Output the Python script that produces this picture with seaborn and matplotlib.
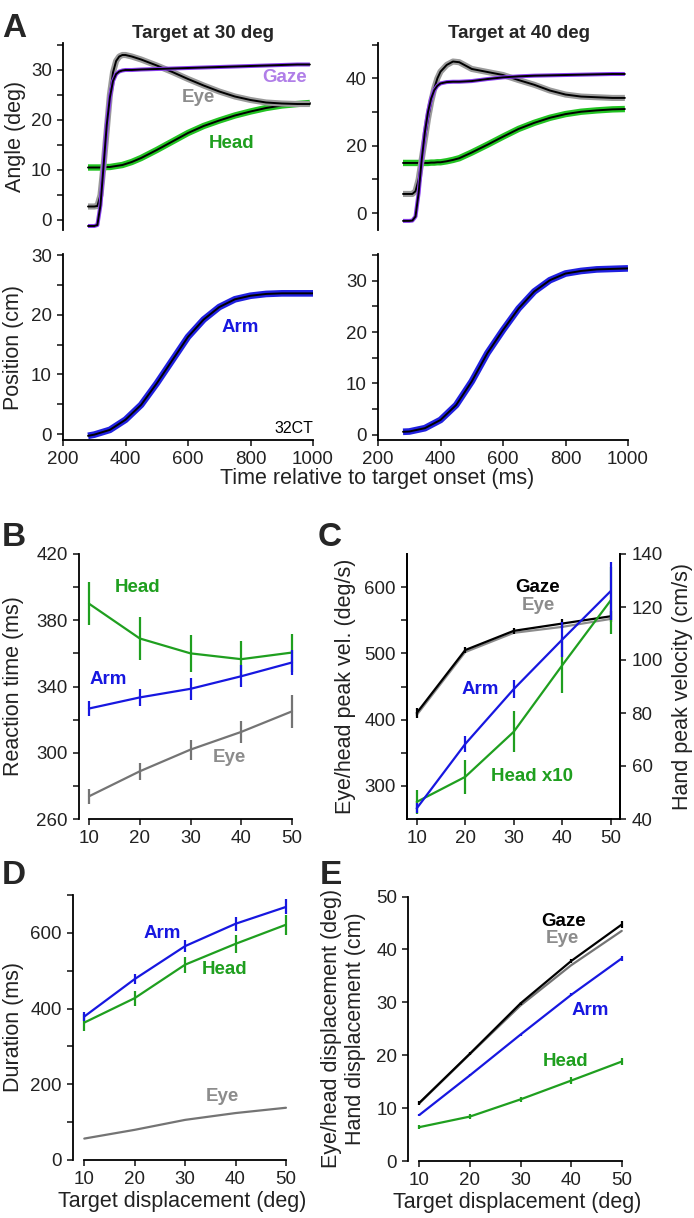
import numpy as np
import pandas as pd
import seaborn as sns
import matplotlib.pyplot as plt

# ---- panel A: averaged traces (ms, deg / cm) ----
t_a30 = [280, 300, 310, 320, 330, 340, 350, 360, 370, 380, 390, 400, 420, 450,
         500, 550, 600, 650, 700, 750, 800, 850, 900, 950, 990]
eye_30 = [2.7, 2.7, 2.8, 5, 11, 18, 25, 29.5, 31.8, 32.7, 33.0, 33.0, 32.7, 32.1,
          30.9, 29.6, 28.2, 26.9, 25.7, 24.7, 24.0, 23.5, 23.3, 23.2, 23.2]
gaze_30 = [-1.2, -1.2, -1.0, 3, 11, 19, 24.5, 27.8, 29.2, 29.7, 29.9, 30.0, 30.0, 30.1,
           30.2, 30.3, 30.4, 30.5, 30.6, 30.7, 30.8, 30.9, 31.0, 31.1, 31.1]
head_30 = [10.5, 10.5, 10.5, 10.5, 10.5, 10.6, 10.6, 10.7, 10.8, 10.9, 11.0, 11.2, 11.6, 12.4,
           14.0, 15.7, 17.4, 18.8, 19.9, 20.9, 21.7, 22.4, 22.9, 23.2, 23.4]

t_a40 = [280, 300, 310, 320, 330, 340, 350, 360, 370, 380, 390, 400, 420, 440, 460,
         500, 550, 600, 650, 700, 750, 800, 850, 900, 950, 990]
eye_40 = [5.7, 5.7, 5.7, 6.5, 10, 16, 22, 28, 33, 37, 40, 42, 44, 45, 44.8,
          42.8, 41.9, 41.0, 39.5, 38.1, 36.4, 35.2, 34.6, 34.4, 34.2, 34.2]
gaze_40 = [-2.3, -2.3, -2.2, -1, 6, 16, 24, 30, 34, 36.5, 37.8, 38.5, 38.9, 39.0, 39.0,
           39.2, 39.8, 40.3, 40.6, 40.8, 40.9, 41.0, 41.1, 41.2, 41.3, 41.3]
head_40 = [14.9, 14.9, 14.9, 14.9, 14.9, 14.9, 14.9, 14.9, 15.0, 15.0, 15.1, 15.1, 15.4, 15.8, 16.3,
           18.0, 20.3, 22.7, 25.0, 26.8, 28.3, 29.4, 30.1, 30.5, 30.8, 30.9]

t_arm = [280, 300, 350, 400, 450, 500, 550, 600, 650, 700, 750, 800, 850, 900, 950, 1000]
arm_30 = [-0.3, -0.1, 0.7, 2.4, 4.9, 8.5, 12.4, 16.3, 19.2, 21.3, 22.6, 23.2, 23.5, 23.6, 23.6, 23.6]
arm_40 = [0.6, 0.65, 1.3, 2.9, 5.8, 10.4, 15.9, 20.4, 24.6, 27.9, 30.1, 31.4, 31.9, 32.2, 32.3, 32.4]

# ---- panels B-E: vs target displacement ----
targets = [10, 20, 30, 40, 50]

rt_head = [390, 369, 360, 356.5, 360.5]
rt_head_err = [13, 13, 11, 11, 11.5]
rt_arm = [326.7, 333.4, 338.6, 346.2, 354.5]
rt_arm_err = [4.5, 5.2, 6.6, 6.5, 7.5]
rt_eye = [273.7, 288.8, 301.9, 312.6, 325]
rt_eye_err = [4.6, 5, 6, 6.5, 10]

pv_gaze = [410, 505, 534, 545, 556]
pv_gaze_err = [7.5, 4, 4, 7, 8]
pv_eye = [407, 502, 531, 540, 552]
pv_head10 = [275.8, 313.6, 381.6, 482, 580]
pv_head10_err = [18, 26, 31, 41.5, 50]
pv_arm = [44, 68.3, 89, 107.7, 126]
pv_arm_err = [1.9, 3, 3.4, 6.6, 11]

dur_arm = [379, 478, 565, 624, 668.5]
dur_arm_err = [13, 13, 15, 18, 20]
dur_head = [363, 427.6, 516, 571, 621.5]
dur_head_err = [22, 19.5, 21, 24, 26]
dur_eye = [56.6, 79.7, 106, 124, 138]

disp_gaze = [11.0, 20.3, 29.8, 37.8, 44.7]
disp_eye = [10.9, 20.2, 29.4, 37.0, 43.5]
disp_arm = [8.7, 16.2, 23.9, 31.4, 38.3]
disp_head = [6.4, 8.4, 11.65, 15.2, 18.8]
disp_head_err = [0.4, 0.4, 0.5, 0.6, 0.7]

GREEN = "#1f9f1f"
BLUE = "#1717e0"
GRAY = "#747474"
LGRAY = "#8c8c8c"
PURPLE = "#b07ee8"
TXT = "#222222"

sns.set_style("ticks")
plt.rcParams["font.family"] = ["Liberation Sans", "DejaVu Sans"]
plt.rcParams.update({
    "axes.linewidth": 1.3,
    "xtick.major.size": 4.5, "ytick.major.size": 4.5,
    "xtick.major.width": 1.2, "ytick.major.width": 1.2,
    "xtick.direction": "out", "ytick.direction": "out",
    "xtick.labelsize": 13.5, "ytick.labelsize": 13.5,
    "xtick.color": TXT, "ytick.color": TXT,
    "axes.edgecolor": "black", "axes.labelcolor": TXT,
    "axes.labelsize": 15.5,
})

W, H = 694, 1218
fig = plt.figure(figsize=(W / 100, H / 100), dpi=100)


def rect(l, r, t, b):
    return [l / W, 1 - b / H, (r - l) / W, (b - t) / H]


def ylab(ax, text, px, l, r):
    # px is the centre of the (last) label line; the anchor is its right edge
    ax.set_ylabel(text)
    ax.yaxis.set_label_coords((px + 11 - l) / (r - l), 0.5)


def yticks(ax, ticks, labeled):
    ax.set_yticks(ticks)
    ax.set_yticklabels([str(v) if v in labeled else "" for v in ticks])


def trace(ax, t, y, band, bw):
    sns.lineplot(x=t, y=y, ax=ax, color=band, lw=bw, solid_capstyle="butt")
    sns.lineplot(x=t, y=y, ax=ax, color="black", lw=1.4)


def errline(ax, x, y, err, color):
    sns.lineplot(x=x, y=y, ax=ax, color=color, lw=1.6)
    ax.errorbar(x, y, yerr=err, fmt="none", ecolor=color, elinewidth=1.6, capsize=0)


# ---------------- A top ----------------
ax1 = fig.add_axes(rect(63, 313, 43, 230))
trace(ax1, t_a30, head_30, "#22c322", 4.6)
trace(ax1, t_a30, eye_30, "#9a9a9a", 4.4)
trace(ax1, t_a30, gaze_30, "#8a3ff0", 2.9)
ax1.set_xlim(200, 1000)
ax1.set_ylim(-2, 35.4)
yticks(ax1, [0, 5, 10, 15, 20, 25, 30, 35], [0, 10, 20, 30])
ylab(ax1, "Angle (deg)", 15, 63, 313)
ax1.text(910, 28.4, "Gaze", color=PURPLE, fontsize=13.5, fontweight="bold", ha="center", va="center")
ax1.text(632, 24.4, "Eye", color=LGRAY, fontsize=13.5, fontweight="bold", ha="center", va="center")
ax1.text(741, 15.4, "Head", color=GREEN, fontsize=13.5, fontweight="bold", ha="center", va="center")

ax2 = fig.add_axes(rect(378, 628, 43, 230))
trace(ax2, t_a40, head_40, "#22c322", 4.6)
trace(ax2, t_a40, eye_40, "#9a9a9a", 4.4)
trace(ax2, t_a40, gaze_40, "#8a3ff0", 2.9)
ax2.set_xlim(200, 1000)
ax2.set_ylim(-5, 50.5)
yticks(ax2, [0, 10, 20, 30, 40, 50], [0, 20, 40])

for ax in (ax1, ax2):
    sns.despine(ax=ax, bottom=True)
    ax.tick_params(axis="x", bottom=False, labelbottom=False)
    ax.set_xlabel("")

fig.text(203 / W, 1 - 33 / H, "Target at 30 deg", fontsize=13.5, fontweight="bold", ha="center", va="center")
fig.text(519 / W, 1 - 33 / H, "Target at 40 deg", fontsize=13.5, fontweight="bold", ha="center", va="center")

# ---------------- A bottom ----------------
ax3 = fig.add_axes(rect(63, 313, 254, 440))
trace(ax3, t_arm, arm_30, "#2020e0", 4.8)
ax3.set_xlim(200, 1000)
ax3.set_ylim(-1, 30.2)
yticks(ax3, [0, 5, 10, 15, 20, 25, 30], [0, 10, 20, 30])
ylab(ax3, "Position (cm)", 13, 63, 313)
ax3.text(766, 17.9, "Arm", color=BLUE, fontsize=13.5, fontweight="bold", ha="center", va="center")
ax3.text(939, 0.9, "32CT", color="black", fontsize=11.5, ha="center", va="center")

ax4 = fig.add_axes(rect(378, 628, 254, 440))
trace(ax4, t_arm, arm_40, "#2020e0", 4.8)
ax4.set_xlim(200, 1000)
ax4.set_ylim(-1, 35.2)
yticks(ax4, [0, 5, 10, 15, 20, 25, 30, 35], [0, 10, 20, 30])

for ax in (ax3, ax4):
    sns.despine(ax=ax)
    ax.set_xticks([200, 400, 600, 800, 1000])
    ax.set_xlabel("")
fig.text(377 / W, 1 - 478 / H, "Time relative to target onset (ms)", fontsize=15.5,
         color=TXT, ha="center", va="center")

# ---------------- B ----------------
axb = fig.add_axes(rect(78.85, 297.1, 554, 819))
errline(axb, targets, rt_head, rt_head_err, GREEN)
errline(axb, targets, rt_arm, rt_arm_err, BLUE)
errline(axb, targets, rt_eye, rt_eye_err, GRAY)
axb.set_xlim(8, 51)
axb.set_ylim(260, 420)
yticks(axb, list(range(260, 421, 20)), [260, 300, 340, 380, 420])
ylab(axb, "Reaction time (ms)", 13, 78.85, 297.1)
axb.text(19.5, 399.5, "Head", color=GREEN, fontsize=13.5, fontweight="bold", ha="center", va="center")
axb.text(13.7, 344, "Arm", color=BLUE, fontsize=13.5, fontweight="bold", ha="center", va="center")
axb.text(37.6, 297, "Eye", color=LGRAY, fontsize=13.5, fontweight="bold", ha="center", va="center")

# ---------------- C ----------------
axc = fig.add_axes(rect(407, 620.4, 554, 819))
errline(axc, targets, pv_eye, [0, 0, 0, 0, 0], LGRAY)
errline(axc, targets, pv_gaze, pv_gaze_err, "black")
errline(axc, targets, pv_head10, pv_head10_err, GREEN)
axc.set_xlim(8, 52)
axc.set_ylim(250, 650)
yticks(axc, [300, 350, 400, 450, 500, 550, 600], [300, 400, 500, 600])
ylab(axc, "Eye/head peak vel. (deg/s)", 345, 407, 620.4)
axc2 = axc.twinx()
errline(axc2, targets, pv_arm, pv_arm_err, BLUE)
axc2.set_ylim(40, 140)
axc2.set_yticks([40, 60, 80, 100, 120, 140])
axc2.set_ylabel("Hand peak velocity (cm/s)")
axc2.yaxis.set_label_coords((672 - 407) / (620.4 - 407), 0.5)
axc2.spines["top"].set_visible(False)
axc.spines["top"].set_visible(False)
axc.text(35, 598.7, "Gaze", color="black", fontsize=13.5, fontweight="bold", ha="center", va="center")
axc.text(35, 573, "Eye", color=LGRAY, fontsize=13.5, fontweight="bold", ha="center", va="center")
axc.text(23.05, 446, "Arm", color=BLUE, fontsize=13.5, fontweight="bold", ha="center", va="center")
axc.text(33.7, 314, "Head x10", color=GREEN, fontsize=13.5, fontweight="bold", ha="center", va="center")

# ---------------- D ----------------
axd = fig.add_axes(rect(72.7, 291, 895, 1160))
errline(axd, targets, dur_eye, [0, 0, 0, 0, 0], GRAY)
errline(axd, targets, dur_head, dur_head_err, GREEN)
errline(axd, targets, dur_arm, dur_arm_err, BLUE)
axd.set_xlim(7.7, 51)
axd.set_ylim(0, 700)
yticks(axd, list(range(0, 701, 100)), [0, 200, 400, 600])
ylab(axd, "Duration (ms)", 13, 72.7, 291)
axd.text(25.5, 599.6, "Arm", color=BLUE, fontsize=13.5, fontweight="bold", ha="center", va="center")
axd.text(37.8, 503.7, "Head", color=GREEN, fontsize=13.5, fontweight="bold", ha="center", va="center")
axd.text(37.3, 169, "Eye", color=LGRAY, fontsize=13.5, fontweight="bold", ha="center", va="center")

# ---------------- E ----------------
axe = fig.add_axes(rect(408.2, 626.8, 896.5, 1161))
errline(axe, targets, disp_eye, [0, 0, 0, 0, 0], GRAY)
errline(axe, targets, disp_gaze, [0.4, 0.3, 0.3, 0.4, 0.6], "black")
errline(axe, targets, disp_arm, [0.2, 0.2, 0.2, 0.3, 0.5], BLUE)
errline(axe, targets, disp_head, disp_head_err, GREEN)
axe.set_xlim(7.8, 51)
axe.set_ylim(0, 50)
axe.set_yticks([0, 10, 20, 30, 40, 50])
ylab(axe, "Eye/head displacement (deg)\nHand displacement (cm)", 355, 408.2, 626.8)
axe.text(38.6, 45.2, "Gaze", color="black", fontsize=13.5, fontweight="bold", ha="center", va="center")
axe.text(38.3, 42.1, "Eye", color=LGRAY, fontsize=13.5, fontweight="bold", ha="center", va="center")
axe.text(43.7, 28.5, "Arm", color=BLUE, fontsize=13.5, fontweight="bold", ha="center", va="center")
axe.text(38.8, 18.9, "Head", color=GREEN, fontsize=13.5, fontweight="bold", ha="center", va="center")

for ax in (axb, axd, axe):
    sns.despine(ax=ax)
for ax in (axb, axd, axe, axc):
    ax.set_xticks(targets)
    ax.spines["bottom"].set_bounds(10, 50)
    ax.set_xlabel("")
axd.set_xlabel("Target displacement (deg)", labelpad=2)
axe.set_xlabel("Target displacement (deg)", labelpad=2)

# panel letters
for letter, x, y in (("A", 2, 13), ("B", 2, 522), ("C", 318, 522), ("D", 2, 860), ("E", 320, 860)):
    fig.text(x / W, 1 - y / H, letter, fontsize=24, fontweight="bold", ha="left", va="top")

fig.savefig("out.png", dpi=100)
